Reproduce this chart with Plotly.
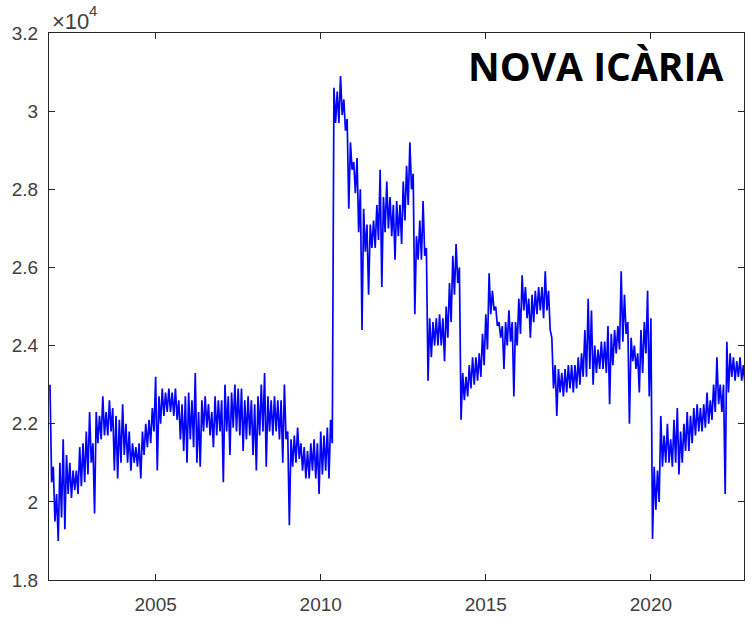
import plotly.graph_objects as go

# ---- data (decimal years, values in units) ----
bin_start = 2001.8
bin_step = 0.1

# upper envelope of the noisy daily series, one value per 0.1-year bin
hi_values = [
    23000, 20900,
    20200, 21000, 21600, 21200, 21000, 20800, 20800, 21400, 21500, 21800,   # 2002
    22300, 21500, 22300, 22200, 22700, 22300, 22600, 22400, 22200, 22100,   # 2003
    22500, 22000, 21800, 21500, 21400, 21500, 21800, 22000, 22100, 22400,   # 2004
    23200, 22700, 22900, 22800, 22900, 22800, 22900, 22600, 22500, 22700,   # 2005
    22800, 22600, 23300, 22300, 22600, 22700, 22500, 22300, 22700, 22600,   # 2006
    22600, 23000, 22700, 22800, 23000, 22900, 22900, 22600, 22700, 22600,   # 2007
    22500, 22700, 23000, 23300, 22700, 22600, 22700, 22600, 22600, 23000,   # 2008
    21800, 21600, 21700, 21900, 21500, 21400, 21300, 21500, 21600, 21500,   # 2009
    21800, 21700, 21900, 22100, 30600, 30500, 30900, 30300, 29800, 29200,   # 2010
    28700, 28800, 28000, 27500, 27100, 27100, 27200, 27600, 28500, 27800,   # 2011
    28200, 27800, 27600, 27700, 27600, 28200, 28600, 29200, 28400, 26800,   # 2012
    27200, 27700, 26500, 24700, 24600, 24700, 24800, 24700, 25000, 25600,   # 2013
    26300, 26600, 26000, 23300, 23200, 23500, 23700, 23700, 23800, 24300,   # 2014
    24800, 25850, 25400, 25000, 24600, 24500, 24600, 24900, 24600, 24600,   # 2015
    25200, 25800, 25500, 25200, 25300, 25400, 25500, 25500, 25900, 25400,   # 2016
    24200, 23500, 23400, 23300, 23400, 23500, 23500, 23500, 23700, 23800,   # 2017
    24400, 25200, 24900, 24000, 23900, 24100, 24100, 24500, 24300, 24400,   # 2018
    24500, 25900, 25300, 24600, 24200, 24000, 23800, 24400, 24600, 25400,   # 2019
    24700, 20900, 20800, 22200, 21700, 22000, 21600, 22100, 22400, 21800,   # 2020
    22000, 22300, 22200, 22400, 22500, 22400, 22500, 22800, 22600, 23000,   # 2021
    23700, 23000, 23000, 24100, 23800, 23700, 23600, 23700, 23500,          # 2022
]

# lower envelope (including the short downward spikes)
lo_values = [
    20500, 19500,
    19000, 19600, 19300, 20200, 20100, 20300, 20200, 20400, 20500, 20700,   # 2002
    21000, 19700, 21500, 21600, 21700, 21700, 21800, 20800, 20600, 21000,   # 2003
    21200, 21000, 20800, 21000, 20900, 20600, 21200, 21400, 21500, 21800,   # 2004
    20800, 22000, 22200, 22300, 22300, 22200, 22100, 21600, 21300, 21000,   # 2005
    21600, 21400, 21000, 20900, 21800, 21900, 21700, 21400, 21700, 21800,   # 2006
    20500, 21800, 21200, 21900, 21800, 21700, 21300, 21600, 21700, 21200,   # 2007
    20800, 21700, 21800, 20900, 21800, 21700, 21800, 21600, 21000, 21600,   # 2008
    19400, 20900, 21000, 21100, 20800, 20600, 20600, 20800, 20600, 20200,   # 2009
    20700, 20800, 20600, 21500, 29700, 29700, 29900, 29500, 27500, 28500,   # 2010
    27900, 26900, 24400, 26400, 25300, 26500, 26500, 26700, 25500, 26900,   # 2011
    27000, 26800, 26200, 26800, 26600, 27200, 27600, 28000, 24800, 26200,   # 2012
    26200, 26300, 23100, 23700, 24000, 24000, 24000, 23600, 24200, 24600,   # 2013
    25300, 25600, 22100, 22600, 22700, 22900, 23000, 23100, 23200, 23500,   # 2014
    23900, 24800, 24900, 24500, 24200, 23400, 24000, 24100, 22700, 24000,   # 2015
    24300, 24900, 24700, 24200, 24600, 24800, 24900, 24700, 24900, 24400,   # 2016
    22900, 22200, 22800, 22700, 22800, 22900, 22800, 22900, 23000, 23200,   # 2017
    23200, 23400, 23000, 23300, 23400, 23400, 23300, 22500, 23500, 23800,   # 2018
    23900, 24100, 24300, 22000, 23600, 23400, 22800, 23300, 23800, 22700,   # 2019
    19050, 19800, 20000, 20900, 21000, 21000, 20900, 21000, 20700, 21000,   # 2020
    21300, 21300, 21500, 21700, 21800, 21800, 21900, 22000, 22100, 22300,   # 2021
    22500, 22300, 20200, 22800, 23200, 23100, 23200, 23100, 23000,          # 2022
]

x_ticks = [2005, 2010, 2015, 2020]
y_ticks = [18000, 20000, 22000, 24000, 26000, 28000, 30000, 32000]
y_tick_text = ["1.8", "2", "2.2", "2.4", "2.6", "2.8", "3", "3.2"]
title_text = "NOVA ICÀRIA"

# interleave upper / lower envelope to draw the dense noisy band
xs, ys = [], []
for i, (h, l) in enumerate(zip(hi_values, lo_values)):
    t = bin_start + i * bin_step
    xs += [t, t + bin_step / 2]
    ys += [h, l]

axis_color = "#262626"
label_font = dict(family="Liberation Sans, Arial, sans-serif", size=19, color="#404040")

fig = go.Figure()
fig.add_trace(go.Scatter(x=xs, y=ys, mode="lines",
                         line=dict(color="#0000ff", width=1.7),
                         showlegend=False, hoverinfo="skip"))

fig.update_layout(
    width=756, height=627,
    margin=dict(l=49, r=12, t=33, b=47),
    paper_bgcolor="white", plot_bgcolor="white",
    font=label_font,
    hovermode=False,
    xaxis=dict(range=[2001.77, 2022.82], tickvals=x_ticks, ticks="inside", ticklen=6,
               tickcolor=axis_color, showline=True, linecolor=axis_color, linewidth=1,
               mirror="ticks", showgrid=False, zeroline=False, ticklabelstandoff=7,
               automargin=False),
    yaxis=dict(range=[18000, 32000], tickvals=y_ticks, ticktext=y_tick_text,
               ticks="inside", ticklen=6, tickcolor=axis_color, showline=True,
               linecolor=axis_color, linewidth=1, mirror="ticks", showgrid=False,
               zeroline=False, ticklabelstandoff=6, automargin=False),
    annotations=[
        dict(text="×10", xref="paper", yref="paper", x=0.003, y=1.0,
             xanchor="left", yanchor="bottom", showarrow=False,
             font=dict(family="Liberation Sans, Arial, sans-serif", size=22, color="#404040"),
             yshift=-2, borderpad=0),
        dict(text="4", xref="paper", yref="paper", x=0.056, y=1.0,
             xanchor="left", yanchor="bottom", showarrow=False,
             font=dict(family="Liberation Sans, Arial, sans-serif", size=15, color="#404040"),
             yshift=13, borderpad=0),
        dict(text="<b>" + title_text + "</b>", xref="paper", yref="paper",
             x=0.972, y=0.941, xanchor="right", yanchor="middle", showarrow=False,
             font=dict(family="Open Sans, Liberation Sans, sans-serif", size=39, color="black")),
    ],
)

# remove the default page margin so the figure sits at the window's top-left corner
fig.write_html("out.html", config={"displayModeBar": False},
               post_script="document.body.style.margin='0';")
